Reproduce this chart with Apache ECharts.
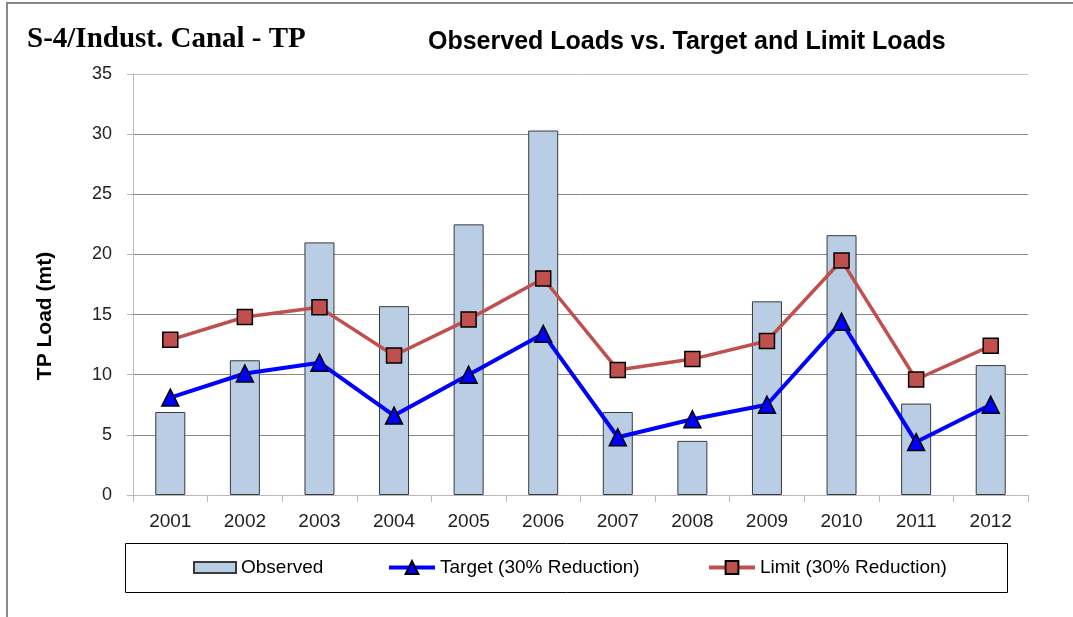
<!DOCTYPE html>
<html>
<head>
<meta charset="utf-8">
<script src="https://cdn.jsdelivr.net/npm/echarts@6/dist/echarts.min.js"></script>
<style>html,body{margin:0;padding:0;background:#fff;}#c{width:1073px;height:617px;}</style>
</head>
<body>
<div id="c"></div>
<script>
const years = ['2001','2002','2003','2004','2005','2006','2007','2008','2009','2010','2011','2012'];
const observed = [6.9, 11.2, 21.0, 15.7, 22.5, 30.3, 6.9, 4.5, 16.1, 21.6, 7.6, 10.8];
const target = [8.1, 10.1, 11.0, 6.6, 10.0, 13.4, 4.8, 6.3, 7.5, 14.4, 4.4, 7.5];
const limit = [12.9, 14.8, 15.6, 11.6, 14.6, 18.0, 10.4, 11.3, 12.8, 19.5, 9.6, 12.4];
const yTicks = [0, 5, 10, 15, 20, 25, 30, 35];

const chart = echarts.init(document.getElementById('c'));
const legText = {fontFamily: 'Liberation Sans', fontSize: 19, color: '#000'};
chart.setOption({
  backgroundColor: '#fff',
  animation: false,
  title: [
    {text: 'S-4/Indust. Canal - TP', left: 22, top: 20,
     textStyle: {fontFamily: 'Liberation Serif', fontWeight: 'bold', fontSize: 29, color: '#000'}},
    {text: 'Observed Loads vs. Target and Limit Loads', left: 423, top: 25,
     textStyle: {fontFamily: 'Liberation Sans', fontWeight: 'bold', fontSize: 25, color: '#000'}}
  ],
  graphic: [
    {type: 'line', shape: {x1: 6, y1: 3, x2: 1073, y2: 3}, style: {stroke: '#888', lineWidth: 2}},
    {type: 'line', shape: {x1: 7, y1: 3, x2: 7, y2: 617}, style: {stroke: '#888', lineWidth: 2}},
    {type: 'rect', shape: {x: 125.5, y: 543.5, width: 882, height: 49}, style: {fill: null, stroke: '#000', lineWidth: 1}},
    {type: 'text', x: 45, y: 316, rotation: Math.PI / 2,
     style: {text: 'TP Load (mt)', fontFamily: 'Liberation Sans', fontWeight: 'bold', fontSize: 21, fill: '#000', textAlign: 'center', textVerticalAlign: 'middle'}}
  ],
  legend: [
    {data: [{name: 'Observed', icon: 'rect'}], left: 193, top: 558, padding: 0, itemWidth: 42, itemHeight: 11, itemGap: 0, textStyle: legText},
    {data: ['Target (30% Reduction)'], left: 387, top: 558, padding: 0, itemWidth: 46, itemHeight: 16, itemGap: 0, textStyle: legText,
     lineStyle: {width: 4}},
    {data: ['Limit (30% Reduction)'], left: 707, top: 558, padding: 0, itemWidth: 46, itemHeight: 16, itemGap: 0, textStyle: legText,
     lineStyle: {width: 4}}
  ],
  grid: {left: 133, right: 45, top: 74, bottom: 122, containLabel: false},
  xAxis: {
    type: 'category', data: years, boundaryGap: true,
    axisLine: {lineStyle: {color: '#b8b8b8', width: 1}},
    axisTick: {show: true, length: 7, lineStyle: {color: '#b8b8b8'}},
    axisLabel: {fontFamily: 'Liberation Sans', fontSize: 19, color: '#222', margin: 17}
  },
  yAxis: {
    type: 'value', min: yTicks[0], max: yTicks[yTicks.length - 1], interval: 5,
    axisLine: {show: true, lineStyle: {color: '#b8b8b8', width: 1}},
    axisTick: {show: true, length: 6, lineStyle: {color: '#b8b8b8'}},
    axisLabel: {fontFamily: 'Liberation Sans', fontSize: 18, color: '#222', margin: 21},
    splitLine: {show: true, lineStyle: {color: ['#b8b8b8', '#878787', '#878787', '#878787', '#878787', '#878787', '#878787', '#c0c0c0'], width: 1}}
  },
  series: [
    {name: 'Observed', type: 'bar', data: observed, barWidth: 30,
     itemStyle: {color: '#b9cde5', borderColor: '#3a3a3a', borderWidth: 1}},
    {name: 'Target (30% Reduction)', type: 'line', data: target, symbol: 'triangle', symbolSize: 17,
     lineStyle: {color: '#0000ff', width: 4}, itemStyle: {color: '#0000ff', borderColor: '#000', borderWidth: 1.5}, z: 3},
    {name: 'Limit (30% Reduction)', type: 'line', data: limit, symbol: 'rect', symbolSize: 15,
     lineStyle: {color: '#c0504d', width: 3.5}, itemStyle: {color: '#c0504d', borderColor: '#000', borderWidth: 1.5}, z: 4}
  ]
});
</script>
</body>
</html>
